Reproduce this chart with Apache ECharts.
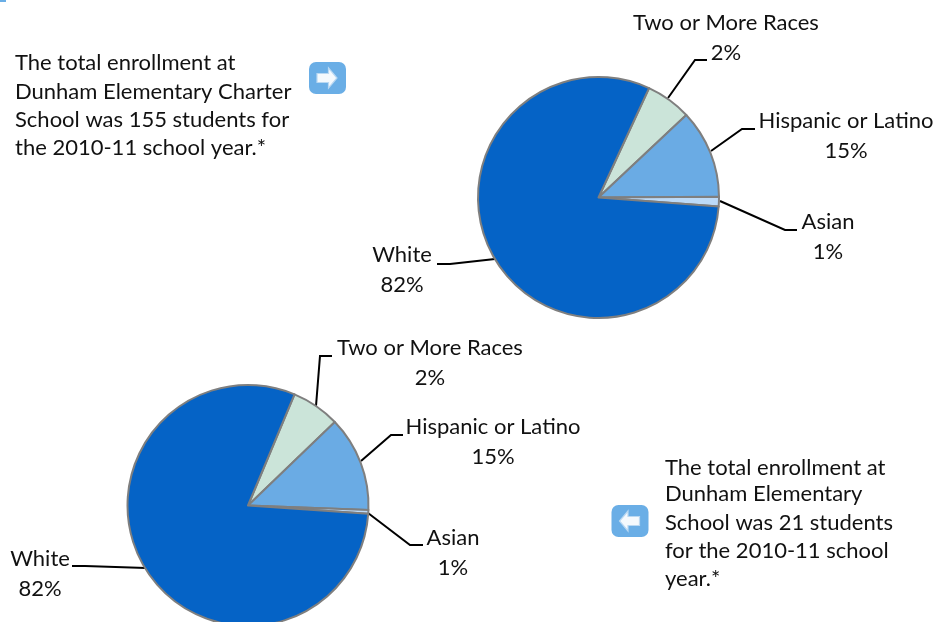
<!DOCTYPE html>
<html><head><meta charset="utf-8">
<style>html,body{margin:0;padding:0;background:#fff}#c{width:935px;height:622px}</style>
<script src="https://cdn.jsdelivr.net/npm/echarts@6/dist/echarts.min.js"></script>
</head><body><div id="c"></div>
<script>
const categories = ['Two or More Races', 'Hispanic or Latino', 'Asian', 'White'];
const printedLabels = ['2%', '15%', '1%', '82%'];
const charterShares = [6.1, 11.9, 1.3, 80.7];
const schoolShares = [6.5, 12.8, 0.5, 80.2];
const charterNote = ['The total enrollment at', 'Dunham Elementary Charter', 'School was 155 students for', 'the 2010-11 school year.*'];
const schoolNote = ['The total enrollment at', 'Dunham Elementary', 'School was 21 students', 'for the 2010-11 school', 'year.*'];
const colors = ['#cbe4d9', '#6aabe4', '#bcdaf8', '#0563c6'];
const FONT = 'Lato';
const labelSpots = [
  [{x:726,y:38,l:[[668,98],[695,60],[707,60]]},{x:846,y:136,l:[[711,151],[742,129],[755,129]]},{x:828,y:237,l:[[720,201],[785,230],[797,230]]},{x:402,y:270,l:[[495,259],[450,264],[437,264]]}],
  [{x:430,y:363,l:[[316,406],[320,356],[332,356]]},{x:493,y:442,l:[[361,461],[391,435],[403,435]]},{x:453,y:553,l:[[368,513],[410,545],[423,545]]},{x:40,y:574,l:[[146,568],[85,566],[72,566]]}]
];
function pie(shares, center, startAngle, idx) {
  return {
    type: 'pie', radius: 120.5, center, startAngle, clockwise: true, animation: false, silent: true,
    left: 0, right: 0, top: 0, bottom: 0,
    data: categories.map((name, i) => ({ name, value: shares[i], itemStyle: { color: colors[i] } })),
    itemStyle: { borderColor: '#7f7f7f', borderWidth: 2 },
    label: { show: true, position: 'outside', fontFamily: FONT, fontSize: 22, lineHeight: 30, color: '#111', align: 'center', overflow: 'none', edgeDistance: 0,
      formatter: p => p.name + '\n' + printedLabels[p.dataIndex] },
    labelLine: { show: true, smooth: false, lineStyle: { color: '#000', width: 2 } },
    labelLayout: p => { const s = labelSpots[idx][p.dataIndex]; return { x: s.x, y: s.y, align: 'center', verticalAlign: 'middle', hideOverlap: false, moveOverlap: false, labelLinePoints: s.l }; }
  };
}
function note(lines, x, ys) {
  return lines.map((t, i) => ({ type: 'text', x, y: ys[i], style: { text: t, fontFamily: FONT, fontSize: 22, fill: '#111', textAlign: 'left', textVerticalAlign: 'middle' } }));
}
function badge(x, y, dir) {
  const cx = x + 18, cy = y + 16;
  const pts = [[-10,-4.5],[1.5,-4.5],[1.5,-10],[10,0],[1.5,10],[1.5,4.5],[-10,4.5]].map(p => [cx + dir * p[0], cy + p[1]]);
  return [
    { type: 'rect', shape: { x, y, width: 37, height: 32, r: 7 }, style: { fill: '#6aaee6' } },
    { type: 'polygon', shape: { points: pts }, style: { fill: '#f4f9fd', stroke: '#b9d8f2', lineWidth: 1.2 } }
  ];
}
const chart = echarts.init(document.getElementById('c'), null, { renderer: 'canvas' });
chart.setOption({
  animation: false,
  backgroundColor: '#fff',
  series: [pie(charterShares, [598.5, 197.5], 65.2, 0), pie(schoolShares, [248, 505.5], 67.3, 1)],
  graphic: [
    { type: 'rect', shape: { x: 0, y: 0, width: 6, height: 2 }, style: { fill: '#6aaee6' } },
    ...note(charterNote, 15, [63, 92, 120, 148]),
    ...note(schoolNote, 665, [468, 494, 523, 551, 579]),
    ...badge(309, 62, 1),
    ...badge(611.5, 505, -1)
  ]
});
</script></body></html>
